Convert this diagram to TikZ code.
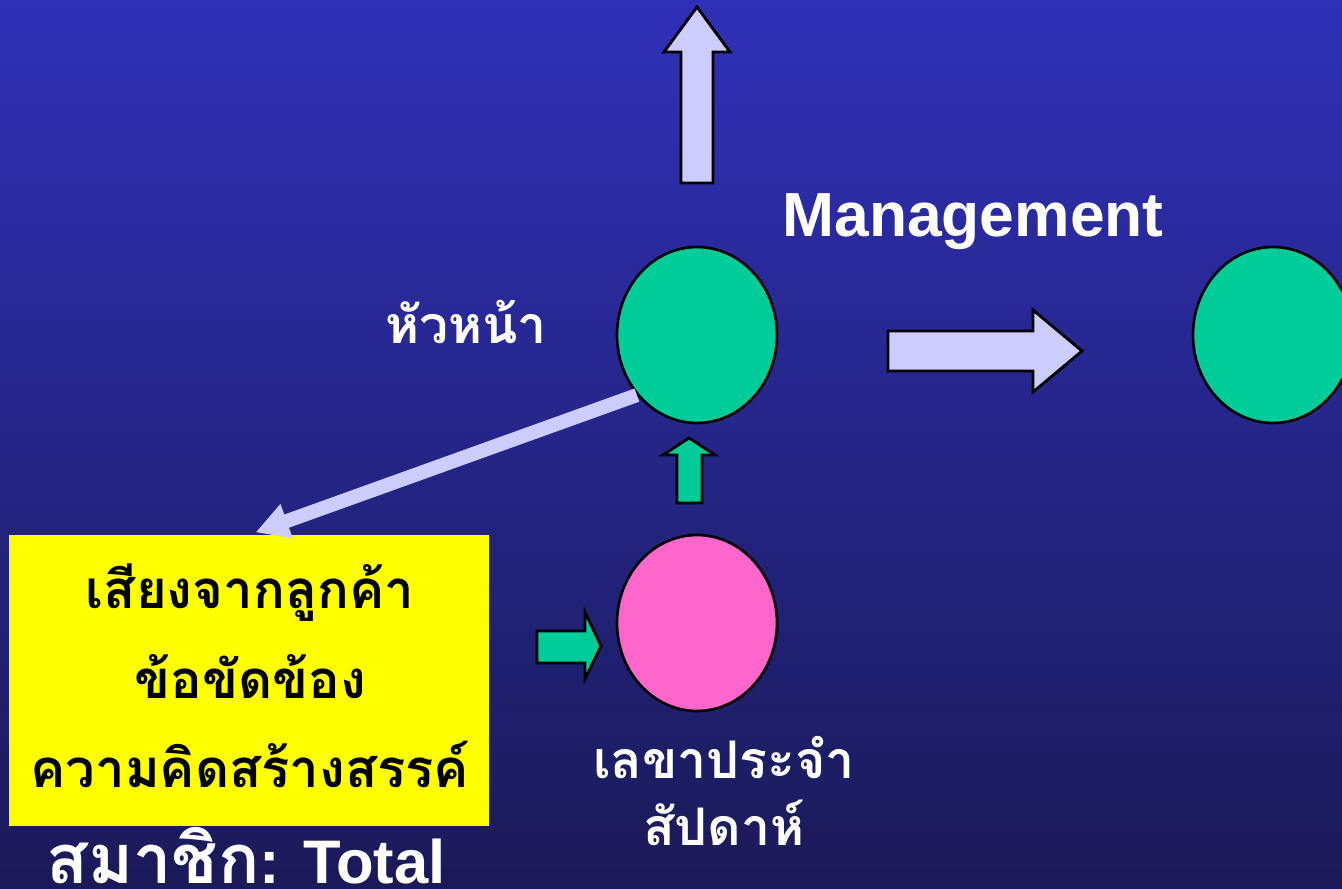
\documentclass[tikz,border=0pt]{standalone}
\usepackage{fontspec}
\setmainfont{Liberation Sans}
\newfontfamily\thai[Script=Thai]{Loma}
\usetikzlibrary{shapes.geometric,arrows.meta}
\definecolor{lav}{HTML}{CCCCFF}
\definecolor{grn}{HTML}{00CC99}
\definecolor{pnk}{HTML}{FF66CC}
\definecolor{ylw}{HTML}{FFFF00}
\definecolor{bgtop}{HTML}{3030B8}
\definecolor{bgbot}{HTML}{1A1A58}
\tikzset{
  blob/.style={ellipse, draw=black, line width=1.5pt, minimum width=3.2cm, minimum height=3.52cm, inner sep=0pt},
  blockarrow/.style={draw=black, line width=1.6pt, line join=miter},
  wlabel/.style={text=white, font=\thai\bfseries\fontsize{29.5}{38}\selectfont, align=center, inner sep=0pt},
}
\begin{document}
\begin{tikzpicture}[x=0.02cm,y=-0.02cm]
\useasboundingbox (0,0) rectangle (1342,889);
\shade[top color=bgtop, bottom color=bgbot] (0,0) rectangle (1342,889);
% block arrows
\filldraw[blockarrow, fill=lav] (681,183) -- (681,52) -- (664,52) -- (697,7) -- (730,52) -- (713,52) -- (713,183) -- cycle;
\filldraw[blockarrow, fill=lav] (888,331) -- (1033,331) -- (1033,310) -- (1082,351) -- (1033,392) -- (1033,371) -- (888,371) -- cycle;
\filldraw[blockarrow, fill=grn] (677,503) -- (677,455) -- (663,455) -- (689,438) -- (715,455) -- (702,455) -- (702,503) -- cycle;
\filldraw[blockarrow, fill=grn] (537,631) -- (585,631) -- (585,612) -- (601,646) -- (585,679) -- (585,663) -- (537,663) -- cycle;
% ellipses
\node[blob, fill=grn] (head) at (697,335) {};
\node[blob, fill=grn] (mgmt) at (1273,335) {};
\node[blob, fill=pnk] (sec) at (697,623) {};
% yellow box
\node[fill=ylw, minimum width=9.6cm, minimum height=5.82cm, inner sep=0pt] (box) at (249,680.5) {};
\node[align=center, inner sep=0pt, font=\thai\bfseries\fontsize{30}{51}\selectfont] (boxtext) at (250,676)
  {เสียงจากลูกค้า\\ข้อขัดข้อง\\ความคิดสร้างสรรค์};
% diagonal arrow
\draw[lav, line width=0.28cm, -{Triangle[length=0.66cm,width=0.68cm]}, shorten >=0.14cm] (head.225) -- (box.north);
% labels
\node[text=white, font=\bfseries\fontsize{35.5}{42}\selectfont, inner sep=0pt] (mlabel) at (973,222) {Management};
\node[wlabel, anchor=base] (hlabel) at (466,343) {หัวหน้า};
\node[wlabel] (slabel) at (724,791) {เลขาประจำ\\สัปดาห์};
\node[text=white, font=\bfseries\fontsize{35}{42}\selectfont, inner sep=0pt, anchor=base west] (total) at (46,883) {{\thai\fontsize{39}{42}\selectfont สมาชิก}: Total};
\end{tikzpicture}
\end{document}
